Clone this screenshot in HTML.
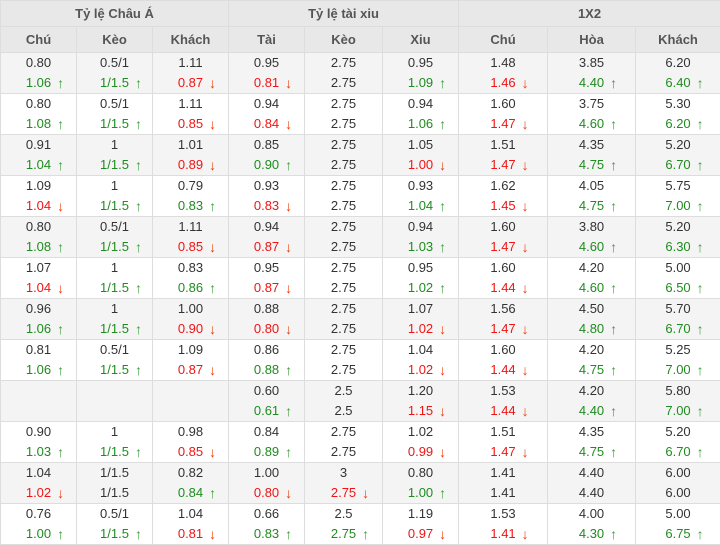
<!DOCTYPE html>
<html><head><meta charset="utf-8"><style>
body{margin:0;background:#fff;width:720px;height:543px;overflow:hidden;font-family:"Liberation Sans",Arial,sans-serif;font-size:13px;color:#333}
table{border-collapse:collapse;table-layout:fixed;width:720px}
td,th{border:1px solid #ddd;text-align:center;padding:0}
th{background:#e8e8e8;color:#555;font-weight:bold;height:25px}
tr.d td{height:40px;line-height:20px}
tr.d:nth-child(odd) td{background:#f4f4f4}
tr.d:nth-child(even) td{background:#fff}
i{font-style:normal;position:relative}
i.u{color:#1e8c1e}
i.r{color:#f01414}
i.u::after{content:"↑";position:absolute;left:100%;top:-2px;margin-left:6px;color:#3ca03c;font-weight:bold;font-size:14px}
i.r::after{content:"↓";position:absolute;left:100%;top:-2px;margin-left:6px;color:#f03c0a;font-weight:bold;font-size:14px}
</style></head><body>
<table>
<colgroup><col style="width:76px"><col style="width:76px"><col style="width:76px"><col style="width:76px"><col style="width:78px"><col style="width:76px"><col style="width:89px"><col style="width:88px"><col style="width:85px"></colgroup>
<tr><th colspan="3">Tỷ lệ Châu Á</th><th colspan="3">Tỷ lệ tài xiu</th><th colspan="3">1X2</th></tr>
<tr><th>Chú</th><th>Kèo</th><th>Khách</th><th>Tài</th><th>Kèo</th><th>Xiu</th><th>Chú</th><th>Hòa</th><th>Khách</th></tr>
<tr class="d"><td>0.80<br><i class="u">1.06</i></td><td>0.5/1<br><i class="u">1/1.5</i></td><td>1.11<br><i class="r">0.87</i></td><td>0.95<br><i class="r">0.81</i></td><td>2.75<br>2.75</td><td>0.95<br><i class="u">1.09</i></td><td>1.48<br><i class="r">1.46</i></td><td>3.85<br><i class="u">4.40</i></td><td>6.20<br><i class="u">6.40</i></td></tr>
<tr class="d"><td>0.80<br><i class="u">1.08</i></td><td>0.5/1<br><i class="u">1/1.5</i></td><td>1.11<br><i class="r">0.85</i></td><td>0.94<br><i class="r">0.84</i></td><td>2.75<br>2.75</td><td>0.94<br><i class="u">1.06</i></td><td>1.60<br><i class="r">1.47</i></td><td>3.75<br><i class="u">4.60</i></td><td>5.30<br><i class="u">6.20</i></td></tr>
<tr class="d"><td>0.91<br><i class="u">1.04</i></td><td>1<br><i class="u">1/1.5</i></td><td>1.01<br><i class="r">0.89</i></td><td>0.85<br><i class="u">0.90</i></td><td>2.75<br>2.75</td><td>1.05<br><i class="r">1.00</i></td><td>1.51<br><i class="r">1.47</i></td><td>4.35<br><i class="u">4.75</i></td><td>5.20<br><i class="u">6.70</i></td></tr>
<tr class="d"><td>1.09<br><i class="r">1.04</i></td><td>1<br><i class="u">1/1.5</i></td><td>0.79<br><i class="u">0.83</i></td><td>0.93<br><i class="r">0.83</i></td><td>2.75<br>2.75</td><td>0.93<br><i class="u">1.04</i></td><td>1.62<br><i class="r">1.45</i></td><td>4.05<br><i class="u">4.75</i></td><td>5.75<br><i class="u">7.00</i></td></tr>
<tr class="d"><td>0.80<br><i class="u">1.08</i></td><td>0.5/1<br><i class="u">1/1.5</i></td><td>1.11<br><i class="r">0.85</i></td><td>0.94<br><i class="r">0.87</i></td><td>2.75<br>2.75</td><td>0.94<br><i class="u">1.03</i></td><td>1.60<br><i class="r">1.47</i></td><td>3.80<br><i class="u">4.60</i></td><td>5.20<br><i class="u">6.30</i></td></tr>
<tr class="d"><td>1.07<br><i class="r">1.04</i></td><td>1<br><i class="u">1/1.5</i></td><td>0.83<br><i class="u">0.86</i></td><td>0.95<br><i class="r">0.87</i></td><td>2.75<br>2.75</td><td>0.95<br><i class="u">1.02</i></td><td>1.60<br><i class="r">1.44</i></td><td>4.20<br><i class="u">4.60</i></td><td>5.00<br><i class="u">6.50</i></td></tr>
<tr class="d"><td>0.96<br><i class="u">1.06</i></td><td>1<br><i class="u">1/1.5</i></td><td>1.00<br><i class="r">0.90</i></td><td>0.88<br><i class="r">0.80</i></td><td>2.75<br>2.75</td><td>1.07<br><i class="r">1.02</i></td><td>1.56<br><i class="r">1.47</i></td><td>4.50<br><i class="u">4.80</i></td><td>5.70<br><i class="u">6.70</i></td></tr>
<tr class="d"><td>0.81<br><i class="u">1.06</i></td><td>0.5/1<br><i class="u">1/1.5</i></td><td>1.09<br><i class="r">0.87</i></td><td>0.86<br><i class="u">0.88</i></td><td>2.75<br>2.75</td><td>1.04<br><i class="r">1.02</i></td><td>1.60<br><i class="r">1.44</i></td><td>4.20<br><i class="u">4.75</i></td><td>5.25<br><i class="u">7.00</i></td></tr>
<tr class="d"><td></td><td></td><td></td><td>0.60<br><i class="u">0.61</i></td><td>2.5<br>2.5</td><td>1.20<br><i class="r">1.15</i></td><td>1.53<br><i class="r">1.44</i></td><td>4.20<br><i class="u">4.40</i></td><td>5.80<br><i class="u">7.00</i></td></tr>
<tr class="d"><td>0.90<br><i class="u">1.03</i></td><td>1<br><i class="u">1/1.5</i></td><td>0.98<br><i class="r">0.85</i></td><td>0.84<br><i class="u">0.89</i></td><td>2.75<br>2.75</td><td>1.02<br><i class="r">0.99</i></td><td>1.51<br><i class="r">1.47</i></td><td>4.35<br><i class="u">4.75</i></td><td>5.20<br><i class="u">6.70</i></td></tr>
<tr class="d"><td>1.04<br><i class="r">1.02</i></td><td>1/1.5<br>1/1.5</td><td>0.82<br><i class="u">0.84</i></td><td>1.00<br><i class="r">0.80</i></td><td>3<br><i class="r">2.75</i></td><td>0.80<br><i class="u">1.00</i></td><td>1.41<br>1.41</td><td>4.40<br>4.40</td><td>6.00<br>6.00</td></tr>
<tr class="d"><td>0.76<br><i class="u">1.00</i></td><td>0.5/1<br><i class="u">1/1.5</i></td><td>1.04<br><i class="r">0.81</i></td><td>0.66<br><i class="u">0.83</i></td><td>2.5<br><i class="u">2.75</i></td><td>1.19<br><i class="r">0.97</i></td><td>1.53<br><i class="r">1.41</i></td><td>4.00<br><i class="u">4.30</i></td><td>5.00<br><i class="u">6.75</i></td></tr>
</table>
</body></html>
